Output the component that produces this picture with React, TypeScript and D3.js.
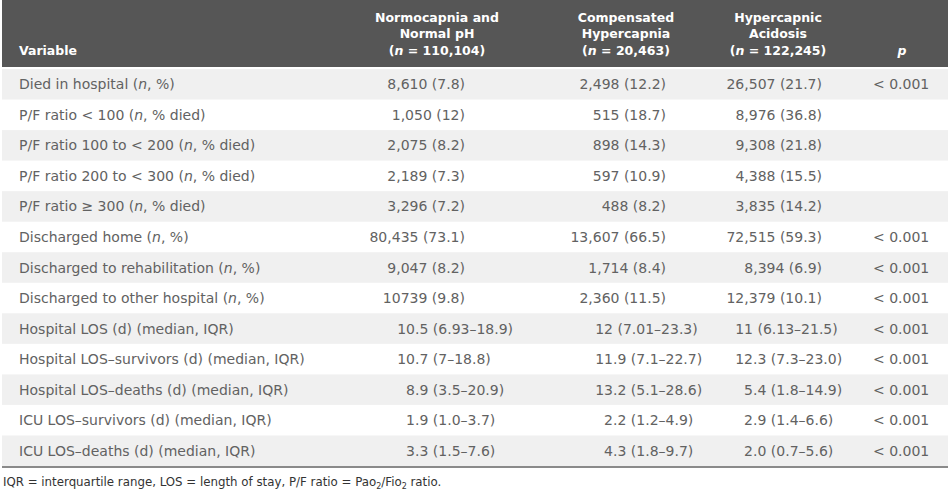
import React, { useEffect } from "react";
import * as d3 from "d3";

const variables = [
  "Died in hospital (*n*, %)",
  "P/F ratio < 100 (*n*, % died)",
  "P/F ratio 100 to < 200 (*n*, % died)",
  "P/F ratio 200 to < 300 (*n*, % died)",
  "P/F ratio ≥ 300 (*n*, % died)",
  "Discharged home (*n*, %)",
  "Discharged to rehabilitation (*n*, %)",
  "Discharged to other hospital (*n*, %)",
  "Hospital LOS (d) (median, IQR)",
  "Hospital LOS–survivors (d) (median, IQR)",
  "Hospital LOS–deaths (d) (median, IQR)",
  "ICU LOS–survivors (d) (median, IQR)",
  "ICU LOS–deaths (d) (median, IQR)",
];

const normocapnia = [
  "8,610 (7.8)", "1,050 (12)", "2,075 (8.2)", "2,189 (7.3)", "3,296 (7.2)",
  "80,435 (73.1)", "9,047 (8.2)", "10739 (9.8)",
  "10.5 (6.93–18.9)", "10.7 (7–18.8)", "8.9 (3.5–20.9)", "1.9 (1.0–3.7)", "3.3 (1.5–7.6)",
];
const compensated = [
  "2,498 (12.2)", "515 (18.7)", "898 (14.3)", "597 (10.9)", "488 (8.2)",
  "13,607 (66.5)", "1,714 (8.4)", "2,360 (11.5)",
  "12 (7.01–23.3)", "11.9 (7.1–22.7)", "13.2 (5.1–28.6)", "2.2 (1.2–4.9)", "4.3 (1.8–9.7)",
];
const acidosis = [
  "26,507 (21.7)", "8,976 (36.8)", "9,308 (21.8)", "4,388 (15.5)", "3,835 (14.2)",
  "72,515 (59.3)", "8,394 (6.9)", "12,379 (10.1)",
  "11 (6.13–21.5)", "12.3 (7.3–23.0)", "5.4 (1.8–14.9)", "2.9 (1.4–6.6)", "2.0 (0.7–5.6)",
];
const pValues = [
  "< 0.001", "", "", "", "", "< 0.001", "< 0.001", "< 0.001",
  "< 0.001", "< 0.001", "< 0.001", "< 0.001", "< 0.001",
];

const headerVariable = "Variable";
const headerP = "p";
const groupHeaders = [
  ["Normocapnia and", "Normal pH", "(*n* = 110,104)"],
  ["Compensated", "Hypercapnia", "(*n* = 20,463)"],
  ["Hypercapnic", "Acidosis", "(*n* = 122,245)"],
];

// layout (not data)
const W = 950;
const H = 498;
const tableLeft = 2;
const tableRight = 948;
const headerBottom = 67;
const rowsTop = 69;
const rowsBottom = 466;
const headerCenters = [437, 626, 778];
const rightAnchors = [465, 666, 822];
const decimalAnchors = [415, 613, 753];
const pX = 873;
const labelX = 19;

const BODY_FONT = "'DejaVu Sans', 'Liberation Sans', sans-serif";
const TEXT_COLOR = "#626262";

function rich(s: string) {
  return s.split("*").map((part, i) => (
    <tspan key={i} fontStyle={i % 2 ? "italic" : "normal"}>
      {part}
    </tspan>
  ));
}

export default function App() {
  useEffect(() => {
    document.body.style.margin = "0";
  }, []);

  const columns = [normocapnia, compensated, acidosis];
  const y = d3
    .scaleBand<number>()
    .domain(d3.range(variables.length))
    .range([rowsTop, rowsBottom])
    .paddingInner(0);
  const bw = y.bandwidth();

  return (
    <svg
      width={W}
      height={H}
      style={{ position: "absolute", left: 0, top: 0, background: "#fff" }}
      fontFamily={BODY_FONT}
    >
      <rect x={0} y={0} width={W} height={H} fill="#ffffff" />
      {/* header */}
      <rect x={tableLeft} y={0} width={tableRight - tableLeft} height={headerBottom} fill="#565656" />
      <g fill="#ffffff" fontWeight="bold" fontSize={12.5}>
        <text x={labelX} y={54.5}>{headerVariable}</text>
        {groupHeaders.map((lines, ci) => (
          <text key={ci} x={headerCenters[ci]} textAnchor="middle">
            {lines.map((l, li) => (
              <tspan key={li} x={headerCenters[ci]} y={21.5 + li * 16.5}>
                {rich(l)}
              </tspan>
            ))}
          </text>
        ))}
        <text x={902} y={54.5} textAnchor="middle" fontStyle="italic">{headerP}</text>
      </g>

      {/* rows */}
      {variables.map((v, i) => {
        const top = y(i) as number;
        const base = top + bw / 2 + 5;
        return (
          <g key={i}>
            {i % 2 === 0 && (
              <rect x={tableLeft} y={top} width={tableRight - tableLeft} height={bw} fill="#f0f0f0" />
            )}
            <text x={labelX} y={base} fontSize={14} fill={TEXT_COLOR}>
              {rich(v)}
            </text>
            {columns.map((col, ci) => {
              const val = col[i];
              if (val.includes("–")) {
                const m = val.match(/^(\d+)(.*)$/);
                const intPart = m ? m[1] : val;
                const rest = m ? m[2] : "";
                return (
                  <g key={ci} fontSize={14} fill={TEXT_COLOR}>
                    <text x={decimalAnchors[ci]} y={base} textAnchor="end">{intPart}</text>
                    <text x={decimalAnchors[ci]} y={base} textAnchor="start" style={{ whiteSpace: "pre" }}>{rest}</text>
                  </g>
                );
              }
              return (
                <text key={ci} x={rightAnchors[ci]} y={base} textAnchor="end" fontSize={14} fill={TEXT_COLOR}>
                  {val}
                </text>
              );
            })}
            {pValues[i] && (
              <text x={pX} y={base} fontSize={14} fill={TEXT_COLOR}>
                {pValues[i]}
              </text>
            )}
          </g>
        );
      })}
      <line x1={tableLeft} x2={tableRight} y1={rowsBottom + 1} y2={rowsBottom + 1} stroke="#8a8a8a" strokeWidth={2} />

      {/* footnote */}
      <text x={3} y={486} fontSize={11.8} fill="#333333">
        IQR = interquartile range, LOS = length of stay, P/F ratio = Pao
        <tspan dy={3} fontSize={8}>2</tspan>
        <tspan dy={-3}>/Fio</tspan>
        <tspan dy={3} fontSize={8}>2</tspan>
        <tspan dy={-3}> ratio.</tspan>
      </text>
    </svg>
  );
}
